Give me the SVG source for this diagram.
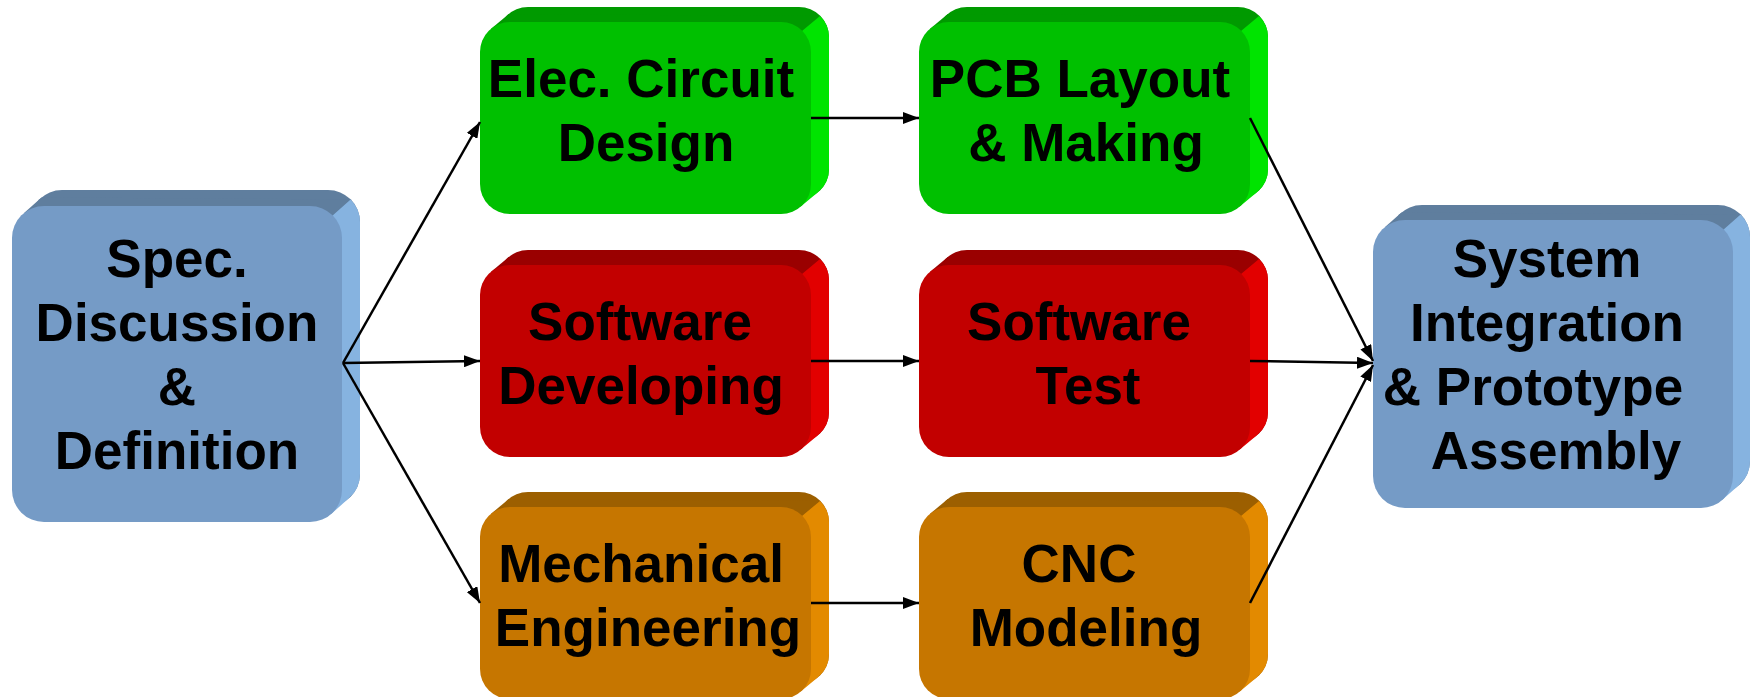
<svg xmlns="http://www.w3.org/2000/svg" width="1753" height="697" viewBox="0 0 1753 697">
<style>
text{font-family:"Liberation Sans",Arial,sans-serif;font-weight:bold;font-size:53px;fill:#000;text-anchor:middle}
.green .t{fill:#009a00}.green .s{fill:#00e400}.green .f{fill:#00c000}
.red .t{fill:#9a0000}.red .s{fill:#e20000}.red .f{fill:#c20000}
.orange .t{fill:#9c5f00}.orange .s{fill:#e38a00}.orange .f{fill:#c67600}
.blue .t{fill:#5f7e9e}.blue .s{fill:#86b3e0}.blue .f{fill:#759bc6}
.conn line{stroke:#000;stroke-width:2.5;fill:none}
</style>
<defs>
<marker id="ah" markerUnits="userSpaceOnUse" markerWidth="16" markerHeight="12" refX="16" refY="6" orient="auto">
<path d="M0,0 L16,6 L0,12 Z" fill="#000"/>
</marker>
</defs>
<rect width="1753" height="697" fill="#fff"/>

<g id="spec" class="blue" transform="translate(12,206)">
<rect x="18" y="-16" width="330" height="316" rx="32" class="t"/>
<polygon points="11.5,7.4 29.5,-8.6 338.6,-6.6 320.6,9.4" class="t"/>
<path d="M320.6,9.4 L338.6,-6.6 A32 32 0 0 1 348,16 L348,268 A32 32 0 0 1 336.5,292.6 L318.5,308.6 Z" class="s"/>
<rect x="0" y="0" width="330" height="316" rx="32" class="f"/>
<text x="165" y="71">Spec.</text>
<text x="165" y="135">Discussion</text>
<text x="165" y="199">&amp;</text>
<text x="165" y="263">Definition</text>
</g>

<g id="elec" class="green" transform="translate(480,22)">
<rect x="18" y="-15" width="331" height="192" rx="30" class="t"/>
<polygon points="10.8,7 28.8,-8 340,-6 322,9" class="t"/>
<path d="M322,9 L340,-6 A30 30 0 0 1 349,15 L349,147 A30 30 0 0 1 338.2,170 L320.2,185 Z" class="s"/>
<rect x="0" y="0" width="331" height="192" rx="30" class="f"/>
<text x="161" y="75">Elec. Circuit</text>
<text x="166" y="139">Design</text>
</g>

<g id="pcb" class="green" transform="translate(919,22)">
<rect x="18" y="-15" width="331" height="192" rx="30" class="t"/>
<polygon points="10.8,7 28.8,-8 340,-6 322,9" class="t"/>
<path d="M322,9 L340,-6 A30 30 0 0 1 349,15 L349,147 A30 30 0 0 1 338.2,170 L320.2,185 Z" class="s"/>
<rect x="0" y="0" width="331" height="192" rx="30" class="f"/>
<text x="161" y="75">PCB Layout</text>
<text x="167" y="139">&amp; Making</text>
</g>

<g id="swdev" class="red" transform="translate(480,265)">
<rect x="18" y="-15" width="331" height="192" rx="30" class="t"/>
<polygon points="10.8,7 28.8,-8 340,-6 322,9" class="t"/>
<path d="M322,9 L340,-6 A30 30 0 0 1 349,15 L349,147 A30 30 0 0 1 338.2,170 L320.2,185 Z" class="s"/>
<rect x="0" y="0" width="331" height="192" rx="30" class="f"/>
<text x="160" y="75">Software</text>
<text x="161" y="139">Developing</text>
</g>

<g id="swtest" class="red" transform="translate(919,265)">
<rect x="18" y="-15" width="331" height="192" rx="30" class="t"/>
<polygon points="10.8,7 28.8,-8 340,-6 322,9" class="t"/>
<path d="M322,9 L340,-6 A30 30 0 0 1 349,15 L349,147 A30 30 0 0 1 338.2,170 L320.2,185 Z" class="s"/>
<rect x="0" y="0" width="331" height="192" rx="30" class="f"/>
<text x="160" y="75">Software</text>
<text x="169" y="139">Test</text>
</g>

<g id="mech" class="orange" transform="translate(480,507)">
<rect x="18" y="-15" width="331" height="192" rx="30" class="t"/>
<polygon points="10.8,7 28.8,-8 340,-6 322,9" class="t"/>
<path d="M322,9 L340,-6 A30 30 0 0 1 349,15 L349,147 A30 30 0 0 1 338.2,170 L320.2,185 Z" class="s"/>
<rect x="0" y="0" width="331" height="192" rx="30" class="f"/>
<text x="161" y="75">Mechanical</text>
<text x="168" y="139">Engineering</text>
</g>

<g id="cnc" class="orange" transform="translate(919,507)">
<rect x="18" y="-15" width="331" height="192" rx="30" class="t"/>
<polygon points="10.8,7 28.8,-8 340,-6 322,9" class="t"/>
<path d="M322,9 L340,-6 A30 30 0 0 1 349,15 L349,147 A30 30 0 0 1 338.2,170 L320.2,185 Z" class="s"/>
<rect x="0" y="0" width="331" height="192" rx="30" class="f"/>
<text x="160" y="75">CNC</text>
<text x="167" y="139">Modeling</text>
</g>

<g id="system" class="blue" transform="translate(1373,220)">
<rect x="17" y="-15" width="360" height="288" rx="32" class="t"/>
<polygon points="11.5,7.4 28.5,-7.6 367.6,-5.6 350.6,9.4" class="t"/>
<path d="M350.6,9.4 L367.6,-5.6 A32 32 0 0 1 377,17 L377,241 A32 32 0 0 1 365.5,265.6 L348.5,280.6 Z" class="s"/>
<rect x="0" y="0" width="360" height="288" rx="32" class="f"/>
<text x="174" y="57">System</text>
<text x="174" y="121">Integration</text>
<text x="160" y="185">&amp; Prototype</text>
<text x="183" y="249">Assembly</text>
</g>

<g id="connectors" class="conn">
<line x1="343" y1="363" x2="480" y2="122" marker-end="url(#ah)"/>
<line x1="343" y1="363" x2="480" y2="361" marker-end="url(#ah)"/>
<line x1="343" y1="363" x2="480" y2="603" marker-end="url(#ah)"/>
<line x1="811" y1="118" x2="919" y2="118" marker-end="url(#ah)"/>
<line x1="811" y1="361" x2="919" y2="361" marker-end="url(#ah)"/>
<line x1="811" y1="603" x2="919" y2="603" marker-end="url(#ah)"/>
<line x1="1250" y1="118" x2="1373" y2="361" marker-end="url(#ah)"/>
<line x1="1250" y1="361" x2="1373" y2="363" marker-end="url(#ah)"/>
<line x1="1250" y1="603" x2="1373" y2="365" marker-end="url(#ah)"/>
</g>
</svg>
